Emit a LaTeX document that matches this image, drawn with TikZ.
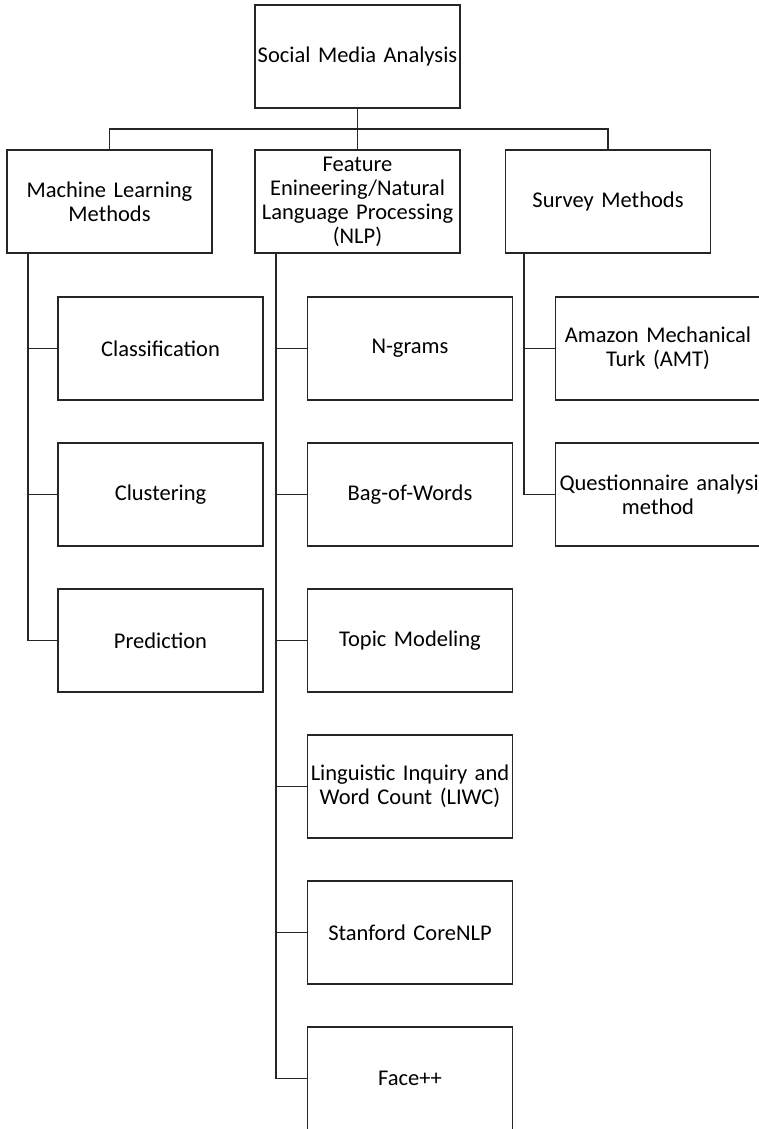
\documentclass[tikz,border=0pt]{standalone}
\usepackage{fontspec}
\setmainfont{Carlito}
\begin{document}
\begin{tikzpicture}[x=1pt, y=-1pt, line width=1.8pt, line join=miter,
  box/.style={draw=black!85, text width=205pt, align=center, minimum height=103pt, inner xsep=0pt, inner ysep=0pt, font=\fontsize{22.5}{24}\selectfont}]
  \useasboundingbox (0,0) rectangle (759,1129);
  \node[box] (sma) at (357.5,56.5) {Social Media Analysis};
  \node[box] (ml) at (109.5,201.5) {Machine Learning\\Methods};
  \node[box] (fe) at (357.5,201.5) {Feature\\Enineering/Natural\\Language Processing\\(NLP)};
  \node[box] (sm) at (608,201.5) {Survey Methods};
  \coordinate (bus) at (357.5,129);
  \draw[black!85] (sma.south) -- (fe.north);
  \draw[black!85] (ml.north) |- (bus) -| (sm.north);
  \coordinate (mlroot) at ([xshift=22pt]ml.south west);
  \coordinate (feroot) at ([xshift=22pt]fe.south west);
  \coordinate (smroot) at ([xshift=19pt]sm.south west);
  \foreach \name/\txt [count=\i] in {cls/Classification, clu/Clustering, pre/Prediction} {
    \node[box] (\name) at (160.5,{348.5+146*(\i-1)}) {\txt};
    \draw[black!85] (mlroot) |- (\name.west);
  }
  \foreach \name/\txt [count=\i] in {ngr/N-grams, bow/Bag-of-Words, top/Topic Modeling,
      liwc/Linguistic Inquiry and\\Word Count (LIWC), core/Stanford CoreNLP, face/Face++} {
    \node[box] (\name) at (410,{348.5+146*(\i-1)}) {\txt};
    \draw[black!85] (feroot) |- (\name.west);
  }
  \foreach \name/\txt [count=\i] in {amt/Amazon Mechanical\\Turk (AMT), que/\makebox[197pt][l]{Questionnaire analysis}\\method} {
    \node[box] (\name) at (658,{348.5+146*(\i-1)}) {\txt};
    \draw[black!85] (smroot) |- (\name.west);
  }
\end{tikzpicture}
\end{document}
